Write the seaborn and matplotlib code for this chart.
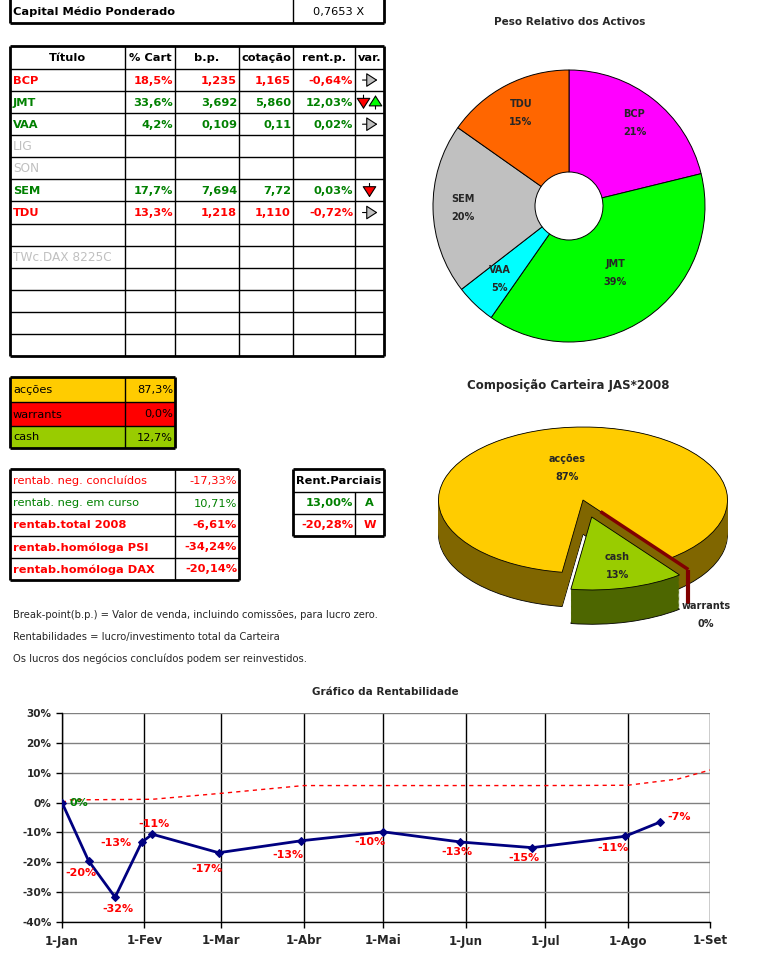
import matplotlib
matplotlib.use("Agg")
import matplotlib.pyplot as plt
from matplotlib.patches import Rectangle
from matplotlib.ticker import FuncFormatter
import seaborn as sns
import pandas as pd
import numpy as np

sns.set_style("white")
plt.rcParams['font.family'] = ['DejaVu Sans']

W, H = 757, 968
RED = '#FF0000'
GREEN = '#008000'
GREY = '#C0C0C0'

# ---------------- data ----------------
capital_label = "Capital Médio Ponderado"
capital_value = "0,7653 X"

header = ["Título", "% Cart", "b.p.", "cotação", "rent.p.", "var."]
titulos = ["BCP", "JMT", "VAA", "LIG", "SON", "SEM", "TDU", "", "TWc.DAX 8225C", "", "", "", ""]
pct_cart = [18.5, 33.64, 4.2, None, None, 17.7, 13.3, None, None, None, None, None, None]
bp = ["1,235", "3,692", "0,109", "", "", "7,694", "1,218", "", "", "", "", "", ""]
cotacao = ["1,165", "5,860", "0,11", "", "", "7,72", "1,110", "", "", "", "", "", ""]
rent_p = ["-0,64%", "12,03%", "0,02%", "", "", "0,03%", "-0,72%", "", "", "", "", "", ""]
var = ["flat", "downup", "flat", "", "", "down", "flat", "", "", "", "", "", ""]
row_color = [RED, GREEN, GREEN, GREY, GREY, GREEN, RED, GREY, GREY, GREY, GREY, GREY, GREY]

pie_colors = {"BCP": "#FF00FF", "JMT": "#00FF00", "VAA": "#00FFFF", "SEM": "#C0C0C0", "TDU": "#FF6600"}

alloc_names = ["acções", "warrants", "cash"]
alloc_vals = [87.3, 0.0, 12.7]
alloc_top = ["#FFCC00", "#FF0000", "#99CC00"]
alloc_side = ["#806600", "#800000", "#4D6600"]

rent_names = ["rentab. neg. concluídos", "rentab. neg. em curso", "rentab.total 2008",
              "rentab.homóloga PSI", "rentab.homóloga DAX"]
rent_vals = ["-17,33%", "10,71%", "-6,61%", "-34,24%", "-20,14%"]
rent_colors = [RED, GREEN, RED, RED, RED]
rent_bold = [False, False, True, True, True]

parc_header = "Rent.Parciais"
parc_vals = ["13,00%", "-20,28%"]
parc_tags = ["A", "W"]
parc_colors = [GREEN, RED]

notes = ["Break-point(b.p.) = Valor de venda, incluindo comissões, para lucro zero.",
         "Rentabilidades = lucro/investimento total da Carteira",
         "Os lucros dos negócios concluídos podem ser reinvestidos."]

rent_dates = ["2008-01-01", "2008-01-11", "2008-01-21", "2008-01-31", "2008-02-04", "2008-02-29",
              "2008-03-31", "2008-05-01", "2008-05-30", "2008-06-26", "2008-07-31", "2008-08-13"]
rent_values = [0.0, -19.5, -31.7, -13.3, -10.6, -16.8, -12.8, -9.8, -13.2, -15.1, -11.3, -6.6]

ref_dates = ["2008-01-01", "2008-01-04", "2008-02-04", "2008-03-01", "2008-04-01", "2008-05-01",
             "2008-06-01", "2008-07-01", "2008-08-01", "2008-08-20", "2008-09-01"]
ref_values = [0.0, 0.9, 1.1, 3.1, 5.7, 5.7, 5.7, 5.7, 5.8, 7.9, 10.9]

month_labels = ["1-Jan", "1-Fev", "1-Mar", "1-Abr", "1-Mai", "1-Jun", "1-Jul", "1-Ago", "1-Set"]

# ---------------- figure ----------------
fig = plt.figure(figsize=(W / 100, H / 100), dpi=100)
ax = fig.add_axes([0, 0, 1, 1])
ax.set_xlim(0, W)
ax.set_ylim(H, 0)
ax.axis('off')


def grid(xs, ys, outer=2.0, inner=1.0, top=True):
    ax.vlines(xs[1:-1], ys[0], ys[-1], color='black', lw=inner)
    ax.hlines(ys[1:-1], xs[0], xs[-1], color='black', lw=inner)
    ax.vlines([xs[0], xs[-1]], ys[0], ys[-1], color='black', lw=outer)
    ax.hlines([ys[-1]] + ([ys[0]] if top else []), xs[0], xs[-1], color='black', lw=outer)


def cell(x0, x1, y0, y1, s, ha='left', color='black', bold=False, size=8.2):
    if ha == 'left':
        x = x0 + 3
    elif ha == 'right':
        x = x1 - 2
    else:
        x = (x0 + x1) / 2
    ax.text(x, (y0 + y1) / 2 + 0.5, s, ha=ha, va='center', color=color, fontsize=size,
            fontweight='bold' if bold else 'normal')


# capital box
grid([10, 293, 384], [-2, 23], top=False)
cell(10, 293, 0, 23, capital_label, bold=True)
cell(293, 384, 0, 23, capital_value, ha='center')

# main table
cx = [10, 125, 175, 239, 293, 355, 384]
ry = [46, 69] + [69 + 22.08 * (i + 1) for i in range(13)]
grid(cx, ry)
for j, h in enumerate(header):
    cell(cx[j], cx[j + 1], ry[0], ry[1], h, ha='center', bold=True)
for i, name in enumerate(titulos):
    y0, y1 = ry[i + 1], ry[i + 2]
    col = row_color[i]
    bold = col != GREY
    cell(cx[0], cx[1], y0, y1, name, color=col, bold=bold, size=8.2 if bold else 8.7)
    if pct_cart[i] is not None:
        cell(cx[1], cx[2], y0, y1, f"{pct_cart[i]:.1f}%".replace('.', ','), ha='right', color=col, bold=True)
    cell(cx[2], cx[3], y0, y1, bp[i], ha='right', color=col, bold=True)
    cell(cx[3], cx[4], y0, y1, cotacao[i], ha='right', color=col, bold=True)
    cell(cx[4], cx[5], y0, y1, rent_p[i], ha='right', color=col, bold=True)
    yc = (y0 + y1) / 2
    xc = (cx[5] + cx[6]) / 2
    astyle = '-|>,head_length=0.7,head_width=0.45'
    if var[i] == 'flat':
        ax.annotate('', xy=(xc + 8, yc), xytext=(xc - 7, yc),
                    arrowprops=dict(arrowstyle=astyle, fc=GREY, ec='black', lw=0.8, shrinkA=0, shrinkB=0))
    if var[i] in ('down', 'downup'):
        xd = xc if var[i] == 'down' else xc - 6
        ax.annotate('', xy=(xd, yc + 7), xytext=(xd, yc - 7),
                    arrowprops=dict(arrowstyle=astyle, fc=RED, ec='black', lw=0.8, shrinkA=0, shrinkB=0))
    if var[i] == 'downup':
        ax.annotate('', xy=(xc + 6, yc - 7), xytext=(xc + 6, yc + 7),
                    arrowprops=dict(arrowstyle=astyle, fc='#00FF00', ec='black', lw=0.8, shrinkA=0, shrinkB=0))

# allocation table
ax_ys = [377, 402, 426, 448]
for i, name in enumerate(alloc_names):
    ax.add_patch(Rectangle((10, ax_ys[i]), 165, ax_ys[i + 1] - ax_ys[i], color=alloc_top[i], lw=0))
    cell(10, 125, ax_ys[i], ax_ys[i + 1], name)
    cell(125, 175, ax_ys[i], ax_ys[i + 1], f"{alloc_vals[i]:.1f}%".replace('.', ','), ha='right')
grid([10, 125, 175], ax_ys)

# rentabilidade table
r_ys = [469, 492, 514, 536, 558, 580]
grid([10, 175, 239], r_ys)
for i, name in enumerate(rent_names):
    cell(10, 175, r_ys[i], r_ys[i + 1], name, color=rent_colors[i], bold=rent_bold[i])
    cell(175, 239, r_ys[i], r_ys[i + 1], rent_vals[i], ha='right', color=rent_colors[i], bold=rent_bold[i])

# rent. parciais
p_ys = [469, 492, 514, 536]
ax.vlines(355, 492, 536, color='black', lw=1)
ax.hlines(p_ys[1:-1], 293, 384, color='black', lw=1)
ax.vlines([293, 384], 469, 536, color='black', lw=2)
ax.hlines([469, 536], 293, 384, color='black', lw=2)
cell(293, 384, 469, 492, parc_header, ha='center', bold=True)
for i in range(2):
    cell(293, 355, p_ys[i + 1], p_ys[i + 2], parc_vals[i], ha='right', color=parc_colors[i], bold=True)
    cell(355, 384, p_ys[i + 1], p_ys[i + 2], parc_tags[i], ha='center', color=parc_colors[i], bold=True)

for i, line in enumerate(notes):
    ax.text(13, 615 + 22 * i, line, ha='left', va='center', fontsize=7.2)

# titles
ax.text(570, 22, "Peso Relativo dos Activos", ha='center', va='center', fontsize=7.5, fontweight='bold')
ax.text(568, 386, "Composição Carteira JAS*2008", ha='center', va='center', fontsize=8.5, fontweight='bold')
ax.text(385, 692, "Gráfico da Rentabilidade", ha='center', va='center', fontsize=7.5, fontweight='bold')

# ---------------- donut ----------------
pie_names = [n for n, v in zip(titulos, pct_cart) if v is not None]
pie_vals = [v for v in pct_cart if v is not None]
cxp, cyp, rp = 569, 206, 136
ax1 = fig.add_axes([(cxp - rp) / W, 1 - (cyp + rp) / H, 2 * rp / W, 2 * rp / H])
wedges, _ = ax1.pie(pie_vals, colors=[pie_colors[n] for n in pie_names], startangle=90,
                    counterclock=False, wedgeprops=dict(width=0.75, edgecolor='black', lw=0.7))
label_r = [0.78, 0.6, 0.74, 0.78, 0.77]
total = sum(pie_vals)
for w, n, v, r in zip(wedges, pie_names, pie_vals, label_r):
    a = np.deg2rad((w.theta1 + w.theta2) / 2)
    ax1.text(r * np.cos(a), r * np.sin(a), f"{n}\n{v / total * 100:.0f}%", ha='center', va='center',
             fontsize=7, fontweight='bold', linespacing=2.0)
ax1.set_xlim(-1, 1)
ax1.set_ylim(-1, 1)

# ---------------- 3d pie ----------------
ux, uy = 144.5, 73.0
c2x, c2y = 583, 500
x_lo, x_hi, y_lo, y_hi = -1.05, 1.05, -1.8, 1.1
ax2 = fig.add_axes([(c2x + x_lo * ux) / W, 1 - (c2y - y_lo * uy) / H,
                    (x_hi - x_lo) * ux / W, (y_hi - y_lo) * uy / H])
depth = 0.47
explode = [0, 0.2, 0.24]
order_z = [1, 2.7, 2]
kw = dict(startangle=261.7, counterclock=False, explode=explode)
for k, off in enumerate(np.linspace(-depth, 0, 30)):
    ws, _ = ax2.pie(alloc_vals, colors=alloc_side, center=(0, off), **kw)
    for i, w in enumerate(ws):
        w.set_zorder(order_z[i])
        if i == 1:
            w.set_visible(False)
        elif k == 0:
            w.set_edgecolor('black')
            w.set_linewidth(0.6)
        else:
            w.set_linewidth(0)
ws, _ = ax2.pie(alloc_vals, colors=alloc_top, center=(0, 0), **kw)
for i, w in enumerate(ws):
    w.set_zorder(order_z[i] + 0.5)
    w.set_edgecolor('#800000' if i == 1 else 'black')
    w.set_linewidth(2.5 if i == 1 else 0.6)
# dark red rim strip of the 0% warrants slice
wr = ws[1]
a = np.deg2rad(wr.theta1)
rx, ry_ = wr.center[0] + np.cos(a), wr.center[1] + np.sin(a)
ax2.plot([rx, rx], [ry_, ry_ - depth], color='#800000', lw=3, zorder=3.3, solid_capstyle='butt')
label_r2 = [0.45, 1.2, 0.7]
for i, w in enumerate(ws):
    a = np.deg2rad((w.theta1 + w.theta2) / 2)
    x0, y0 = w.center
    tx, ty = x0 + label_r2[i] * np.cos(a), y0 + label_r2[i] * np.sin(a)
    if i == 1:
        ty -= depth
    ax2.text(tx, ty, f"{alloc_names[i]}\n{alloc_vals[i] / sum(alloc_vals) * 100:.0f}%", ha='center',
             va='center', fontsize=7, fontweight='bold', linespacing=2.0, zorder=10)
ax2.set_aspect('auto')
ax2.set_xlim(x_lo, x_hi)
ax2.set_ylim(y_lo, y_hi)

# ---------------- line chart ----------------
ax3 = fig.add_axes([62 / W, 1 - 922 / H, 648 / W, 209 / H])
df = pd.DataFrame({'data': pd.to_datetime(rent_dates), 'rent': np.array(rent_values) / 100})
df_ref = pd.DataFrame({'data': pd.to_datetime(ref_dates), 'rent': np.array(ref_values) / 100})
sns.lineplot(data=df_ref, x='data', y='rent', ax=ax3, color=RED, lw=1, linestyle=(0, (3, 3)), zorder=3)
sns.lineplot(data=df, x='data', y='rent', ax=ax3, color='#000080', lw=2, marker='D', markersize=4,
             markeredgecolor='#000080', zorder=4)
ax3.set_xlim(pd.Timestamp('2008-01-01'), pd.Timestamp('2008-09-01'))
ax3.set_ylim(-0.4, 0.3)
months = pd.date_range('2008-01-01', '2008-09-01', freq='MS')
ax3.set_xticks(months)
ax3.set_xticklabels(month_labels, fontsize=8.5, fontweight='bold')
ax3.set_yticks(np.arange(-0.4, 0.31, 0.1))
ax3.yaxis.set_major_formatter(FuncFormatter(lambda v, p: f"{int(round(v * 100))}%"))
for t in ax3.get_yticklabels():
    t.set_fontweight('bold')
    t.set_fontsize(7.5)
ax3.yaxis.grid(True, color='#808080', lw=1)
ax3.xaxis.grid(True, color='black', lw=1)
ax3.tick_params(axis='both', direction='out', length=4, width=1, color='black', left=True, bottom=True)
ax3.tick_params(axis='x', pad=5)
for s in ['top', 'right']:
    ax3.spines[s].set_visible(False)
for s in ['left', 'bottom']:
    ax3.spines[s].set_color('black')
    ax3.spines[s].set_linewidth(1)
ax3.set_xlabel('')
ax3.set_ylabel('')

label_off = [(17, 0), (-8, -12), (3, -12), (-26, -1), (2, 10), (-12, -16), (-13, -14),
             (-13, -10), (-3, -10), (-8, -10), (-12, -12), (20, 5)]
for d, v, off in zip(df['data'], rent_values, label_off):
    ax3.annotate(f"{v:.0f}%", (d, v / 100), xytext=off, textcoords='offset pixels', ha='center',
                 va='center', color=GREEN if v == 0 else RED, fontsize=8, fontweight='bold', zorder=5)

fig.savefig("out.png", dpi=100)
